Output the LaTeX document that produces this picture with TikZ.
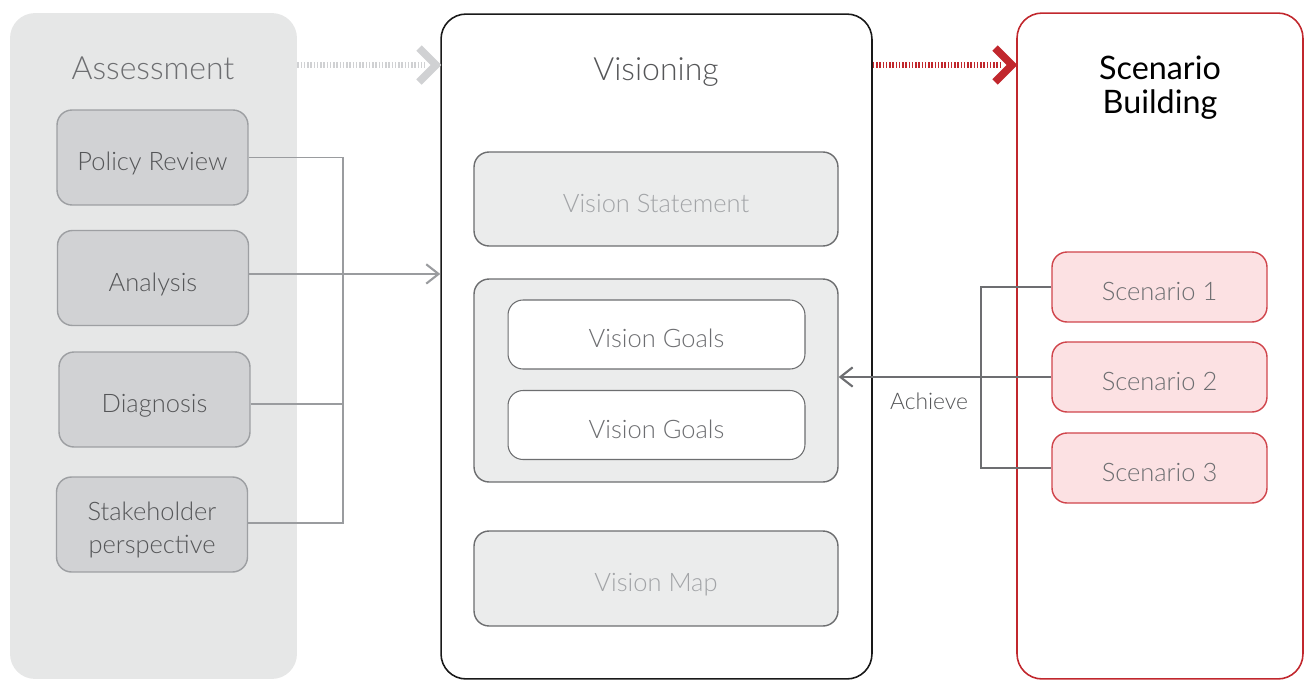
\documentclass[tikz,border=0pt]{standalone}
\usepackage{fontspec}
\setmainfont{Lato}[UprightFont={* Light}]
\newfontfamily\regfont{Lato}
\usetikzlibrary{arrows.meta}
\definecolor{panelgray}{HTML}{E6E7E7}
\definecolor{boxgray}{HTML}{D1D2D4}
\definecolor{boxborder}{HTML}{9D9FA2}
\definecolor{darktext}{HTML}{555658}
\definecolor{midtext}{HTML}{6D6E71}
\definecolor{lighttext}{HTML}{A2A4A7}
\definecolor{visfill}{HTML}{EBECEC}
\definecolor{visborder}{HTML}{6D6E70}
\definecolor{redc}{HTML}{C1272D}
\definecolor{scfill}{HTML}{FCE1E3}
\definecolor{scborder}{HTML}{D0454C}
\definecolor{chevgray}{HTML}{D0D1D3}
\definecolor{linegray}{HTML}{9A9C9F}
\begin{document}
\begin{tikzpicture}[x=0.02cm,y=-0.02cm,
  panel/.style={rounded corners=0.5cm, inner sep=0pt},
  lbl/.style={font=\fontsize{14.5}{18.5}\selectfont, text height=15.2pt, text depth=0pt},
  abox/.style={draw=boxborder, fill=boxgray, line width=0.8pt, rounded corners=0.3cm,
    minimum width=3.82cm, minimum height=1.9cm, align=center, text=darktext, lbl},
  vbox/.style={draw=visborder, fill=visfill, line width=0.8pt, rounded corners=0.3cm,
    minimum width=7.28cm, align=center, text=lighttext, lbl},
  gbox/.style={draw=visborder, fill=white, line width=0.6pt, rounded corners=0.3cm,
    minimum width=5.94cm, minimum height=1.38cm, text=midtext, lbl},
  sbox/.style={draw=scborder, fill=scfill, line width=0.8pt, rounded corners=0.3cm,
    minimum width=4.3cm, minimum height=1.4cm, text=midtext, lbl},
  title/.style={font=\fontsize{18.2}{21}\selectfont, text height=13.1pt, text depth=0pt},
  conn/.style={draw=linegray, line width=0.9pt},
  connd/.style={draw=midtext, line width=0.9pt},
  barb/.style={-{Straight Barb[length=7pt,width=11pt,line width=1.2pt]}},
  stripe/.style={line width=3.6pt, dash pattern=on 0.9pt off 0.95pt},
  chev/.style={line width=4.4pt, miter limit=10},
]
\useasboundingbox (0,0) rectangle (1306,680);

% panels
\node[panel, fill=panelgray, minimum width=5.74cm, minimum height=13.32cm] (asm) at (153.5,346) {};
\node[panel, draw=black!90, fill=white, line width=0.9pt, minimum width=8.62cm, minimum height=13.3cm] (vis) at (656.5,346.5) {};
\node[panel, draw=redc, fill=white, line width=0.9pt, minimum width=5.72cm, minimum height=13.32cm] (scn) at (1160,346) {};

% titles
\node[title, text=midtext] (asmt) at (153,67.5) {Assessment};
\node[title, text=darktext] (vist) at (656,68.5) {Visioning};
\node[align=center, text=black, font=\regfont\fontsize{18.4}{19.4}\selectfont] (scnt) at (1160,88) {Scenario\\Building};

% top arrows
\coordinate (g1) at (425,65);
\coordinate (r1) at (1000,65);
\draw[stripe, draw=chevgray] (asm.east |- g1) -- (g1);
\node[coordinate] (gc) at (436,65) {};
\draw[chev, draw=chevgray] (419,48) -- (gc) -- (419,82);
\draw[stripe, draw=redc] (vis.east |- r1) -- (r1);
\node[coordinate] (rc) at (1012,65) {};
\draw[chev, draw=redc] (995,48) -- (rc) -- (995,82);

% assessment boxes
\node[abox] (pr) at (152.5,157.5) {Policy Review};
\node[abox] (an) at (153,278) {Analysis};
\node[abox] (dg) at (154.5,399.5) {Diagnosis};
\node[abox, text height=, text depth=] (sh) at (152,524.5) {\rule{0pt}{17pt}Stakeholder\\perspective};

% visioning boxes
\node[vbox, minimum height=1.88cm] (vs) at (656,199) {Vision Statement};
\node[vbox, minimum height=4.06cm] (grp) at (656,380.5) {};
\node[gbox] (vg1) at (656.5,334.5) {Vision Goals};
\node[gbox] (vg2) at (656.5,425) {Vision Goals};
\node[vbox, minimum height=1.9cm] (vm) at (656,578.5) {Vision Map};

% scenario boxes
\node[sbox] (s1) at (1159.5,287) {Scenario 1};
\node[sbox] (s2) at (1159.5,377) {Scenario 2};
\node[sbox] (s3) at (1159.5,468) {Scenario 3};

% left connectors
\coordinate (lx) at (343,0);
\draw[conn] (pr.east) -- (pr.east -| lx) -- ([yshift=0.8pt]sh.east -| lx) -- ([yshift=0.8pt]sh.east);
\draw[conn] ([yshift=-2.5pt]dg.east) -- ([yshift=-2.5pt]dg.east -| lx);
\draw[conn, barb] ([yshift=2.3pt]an.east) -- ([yshift=2.3pt]an.east -| vis.west);

% right connectors
\coordinate (rx) at (981,0);
\draw[connd] (s1.west) -- (s1.west -| rx) -- (s3.west -| rx) -- (s3.west);
\draw[connd, barb] (s2.west) -- (s2.west -| grp.east);
\node[text=darktext, font=\fontsize{13}{15}\selectfont] (ach) at (929,401) {Achieve};
\end{tikzpicture}
\end{document}
